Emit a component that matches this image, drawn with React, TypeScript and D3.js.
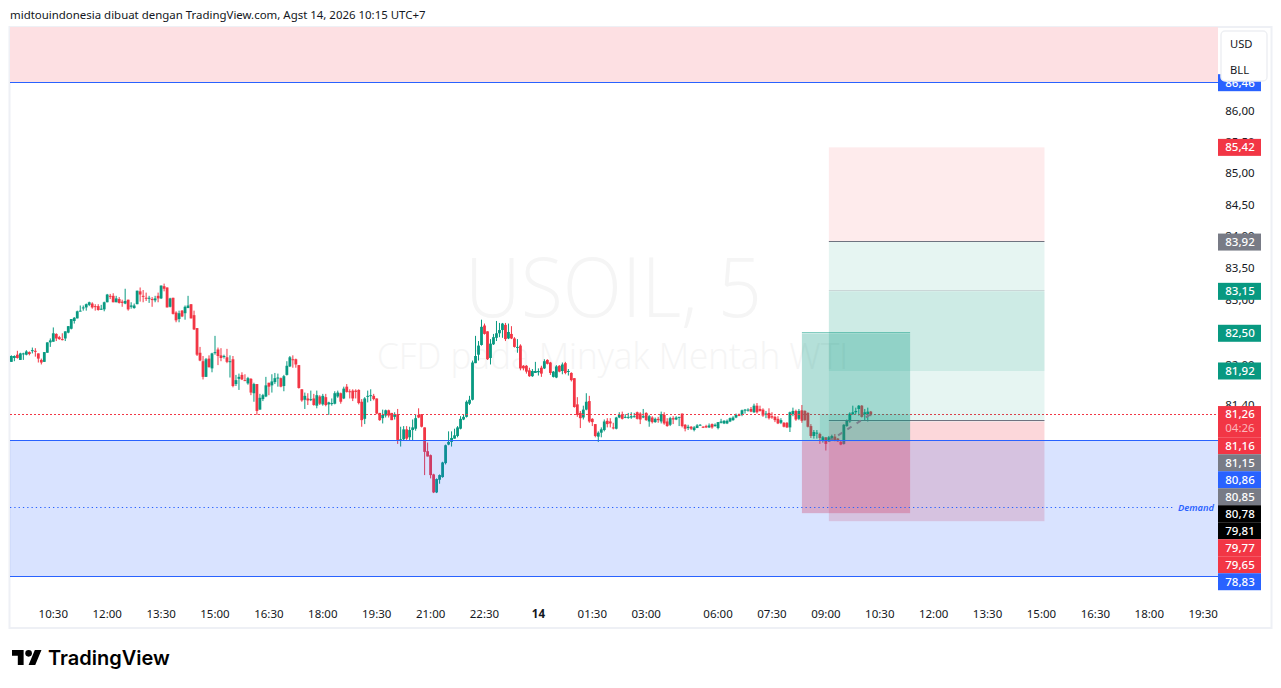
import React, { useRef, useEffect } from 'react';
import * as d3 from 'd3';

const opens = [
  82.06,82.12,82.17,82.09,82.19,82.17,82.21,82.23,82.23,82.19,
  82.09,82.06,82.20,82.36,82.37,82.49,82.44,82.41,82.42,82.51,
  82.57,82.69,82.73,82.84,82.89,82.90,82.94,82.96,82.92,82.92,
  82.87,82.87,82.98,83.08,83.08,82.98,83.03,82.99,82.96,83.02,
  82.91,82.89,82.95,83.15,83.08,83.05,83.04,83.03,83.01,83.08,
  83.04,83.23,83.21,82.91,83.05,82.82,82.72,82.85,82.81,82.89,
  82.95,82.78,82.58,82.20,82.07,81.83,82.11,81.96,82.20,82.25,
  82.16,82.14,82.13,82.06,82.10,81.72,81.80,81.86,81.78,81.73,
  81.80,81.58,81.72,81.33,81.49,81.53,81.74,81.70,81.75,81.81,
  81.81,81.69,81.86,81.99,82.10,82.10,82.01,81.64,81.48,81.50,
  81.48,81.50,81.39,81.53,81.41,81.52,81.41,81.42,81.42,81.53,
  81.58,81.50,81.68,81.61,81.62,81.62,81.63,81.45,81.19,81.53,
  81.54,81.54,81.50,81.28,81.20,81.24,81.32,81.28,81.22,81.26,
  80.87,80.88,81.03,80.91,81.02,81.04,81.25,81.26,81.06,80.70,
  80.64,80.35,80.08,80.27,80.31,80.52,80.80,80.84,80.89,80.93,
  81.04,81.18,81.22,81.42,81.48,82.04,82.17,82.32,82.62,82.53,
  82.12,82.33,82.43,82.50,82.55,82.63,82.42,82.49,82.42,82.28,
  82.31,82.00,82.00,81.93,81.84,81.89,81.90,81.97,81.96,82.09,
  82.05,81.83,81.82,82.00,81.92,82.04,81.91,81.89,81.81,81.41,
  81.28,81.21,81.33,81.46,81.19,81.11,80.92,80.98,81.02,81.16,
  81.15,81.06,81.04,81.21,81.26,81.21,81.21,81.21,81.22,81.29,
  81.27,81.21,81.28,81.15,81.21,81.14,81.19,81.15,81.25,81.15,
  81.10,81.20,81.18,81.21,81.27,81.10,81.05,81.07,81.02,81.05,
  81.09,81.07,81.08,81.06,81.11,81.08,81.05,81.13,81.12,81.12,
  81.15,81.17,81.21,81.25,81.25,81.32,81.32,81.34,81.29,81.39,
  81.34,81.33,81.26,81.28,81.23,81.22,81.19,81.13,81.13,81.13,
  81.06,81.26,81.31,81.19,81.32,81.31,81.28,81.08,80.93,80.97,
  80.96,80.86,80.91,80.85,80.87,80.92,80.89,80.84,80.81,81.08,
  81.15,81.26,81.29,81.34,81.39,81.26,81.26,81.30,
];
const highs = [
  82.16,82.16,82.23,82.20,82.20,82.24,82.22,82.28,82.27,82.19,
  82.11,82.21,82.36,82.42,82.59,82.50,82.46,82.50,82.53,82.61,
  82.72,82.75,82.85,82.93,82.93,82.96,82.99,82.98,82.95,82.95,
  82.94,82.99,83.11,83.11,83.12,83.08,83.06,83.02,83.19,83.02,
  82.98,82.96,83.16,83.21,83.17,83.13,83.08,83.06,83.08,83.13,
  83.24,83.27,83.21,83.05,83.05,82.84,82.85,82.86,82.93,83.08,
  82.95,82.85,82.58,82.29,82.15,82.12,82.16,82.20,82.46,82.28,
  82.27,82.17,82.26,82.16,82.15,81.86,81.88,81.90,81.87,81.83,
  81.81,81.74,81.72,81.57,81.57,81.83,81.74,81.87,81.89,81.88,
  81.82,81.86,82.07,82.15,82.16,82.11,82.01,81.64,81.59,81.58,
  81.62,81.57,81.62,81.55,81.57,81.57,81.45,81.50,81.61,81.62,
  81.59,81.68,81.72,81.64,81.64,81.64,81.64,81.49,81.52,81.62,
  81.64,81.57,81.50,81.28,81.33,81.33,81.33,81.28,81.29,81.34,
  81.07,81.08,81.08,81.07,81.18,81.26,81.35,81.26,81.06,80.83,
  80.65,80.36,80.29,80.35,80.54,80.80,81.00,81.00,81.04,81.08,
  81.23,81.25,81.47,81.54,82.08,82.46,82.38,82.71,82.65,82.53,
  82.41,82.49,82.69,82.66,82.66,82.66,82.65,82.61,82.44,82.41,
  82.33,82.01,82.01,81.97,81.95,82.06,81.96,82.00,82.10,82.10,
  82.06,81.92,82.01,82.01,82.05,82.06,81.95,81.90,81.81,81.52,
  81.31,81.39,81.58,81.54,81.20,81.11,81.00,81.06,81.18,81.20,
  81.20,81.13,81.22,81.29,81.30,81.26,81.28,81.29,81.28,81.30,
  81.29,81.34,81.29,81.25,81.23,81.21,81.22,81.30,81.29,81.20,
  81.22,81.23,81.23,81.22,81.27,81.11,81.10,81.08,81.08,81.11,
  81.11,81.08,81.10,81.12,81.12,81.12,81.14,81.19,81.17,81.18,
  81.21,81.23,81.27,81.27,81.33,81.34,81.35,81.37,81.42,81.43,
  81.39,81.35,81.31,81.35,81.29,81.24,81.23,81.20,81.14,81.14,
  81.30,81.36,81.33,81.34,81.40,81.32,81.29,81.11,81.02,81.02,
  80.98,80.93,80.91,80.93,80.95,80.96,80.90,80.86,81.11,81.18,
  81.29,81.39,81.36,81.40,81.40,81.34,81.36,81.31,
];
const lows = [
  82.06,82.07,82.11,82.09,82.09,82.16,82.16,82.19,82.14,82.05,
  82.02,82.06,82.20,82.29,82.37,82.38,82.40,82.39,82.38,82.50,
  82.56,82.65,82.73,82.84,82.85,82.85,82.92,82.88,82.85,82.85,
  82.86,82.84,82.98,83.03,82.98,82.98,82.96,82.91,82.95,82.85,
  82.88,82.88,82.95,82.99,82.98,83.00,82.97,82.91,82.98,82.98,
  83.03,83.15,82.90,82.90,82.79,82.67,82.67,82.75,82.71,82.89,
  82.73,82.55,82.15,82.07,81.79,81.83,81.97,81.90,82.17,82.01,
  82.07,82.11,82.04,81.82,81.67,81.69,81.63,81.78,81.77,81.71,
  81.55,81.45,81.25,81.33,81.46,81.52,81.55,81.59,81.72,81.68,
  81.67,81.61,81.85,81.98,81.97,81.97,81.65,81.45,81.34,81.40,
  81.46,81.39,81.35,81.40,81.39,81.38,81.25,81.39,81.41,81.51,
  81.42,81.49,81.59,81.50,81.46,81.50,81.41,81.07,81.11,81.44,
  81.46,81.47,81.26,81.16,81.12,81.21,81.21,81.17,81.18,80.81,
  80.77,80.86,80.87,80.86,80.86,81.01,81.20,81.06,80.34,80.62,
  80.29,80.07,80.07,80.21,80.30,80.50,80.79,80.77,80.89,80.91,
  81.03,81.17,81.21,81.40,81.47,82.04,82.08,82.31,82.48,82.09,
  82.02,82.32,82.38,82.44,82.43,82.38,82.41,82.41,82.28,82.20,
  81.93,81.93,81.88,81.83,81.83,81.89,81.85,81.83,81.95,82.02,
  81.86,81.82,81.81,81.90,81.87,81.87,81.85,81.76,81.36,81.22,
  81.05,81.18,81.32,81.13,81.08,80.91,80.84,80.91,81.00,81.06,
  81.06,81.03,81.03,81.20,81.18,81.20,81.19,81.19,81.21,81.18,
  81.11,81.20,81.16,81.07,81.12,81.13,81.13,81.12,81.10,81.07,
  81.08,81.11,81.17,81.08,81.06,81.00,81.02,81.02,81.00,81.05,
  81.09,81.05,81.05,81.05,81.04,81.07,81.03,81.12,81.11,81.11,
  81.14,81.16,81.20,81.23,81.23,81.27,81.30,81.29,81.28,81.27,
  81.30,81.22,81.20,81.18,81.19,81.14,81.11,81.11,81.06,81.05,
  80.99,81.23,81.16,81.17,81.13,81.16,81.06,80.90,80.89,80.89,
  80.81,80.83,80.71,80.84,80.86,80.85,80.84,80.79,80.80,81.07,
  81.13,81.25,81.26,81.24,81.21,81.17,81.15,81.23,
];
const closes = [
  82.15,82.15,82.12,82.19,82.19,82.22,82.18,82.24,82.22,82.11,
  82.05,82.21,82.36,82.39,82.50,82.42,82.41,82.40,82.53,82.61,
  82.72,82.74,82.84,82.85,82.90,82.95,82.98,82.90,82.91,82.86,
  82.88,82.98,83.10,83.07,82.98,83.04,82.97,82.97,83.00,82.87,
  82.93,82.93,83.16,83.10,83.07,83.04,83.05,83.02,83.04,83.04,
  83.24,83.19,82.90,83.04,82.80,82.70,82.81,82.76,82.91,82.93,
  82.73,82.56,82.17,82.08,81.83,82.10,81.98,82.19,82.21,82.15,
  82.12,82.15,82.06,82.07,81.69,81.78,81.83,81.79,81.77,81.81,
  81.59,81.72,81.31,81.51,81.55,81.70,81.68,81.76,81.81,81.82,
  81.68,81.84,82.00,82.13,82.09,82.02,81.66,81.47,81.54,81.47,
  81.49,81.40,81.55,81.42,81.54,81.40,81.44,81.43,81.58,81.59,
  81.45,81.65,81.60,81.60,81.50,81.60,81.43,81.17,81.50,81.54,
  81.55,81.49,81.27,81.17,81.25,81.32,81.24,81.17,81.26,80.87,
  80.88,81.03,80.89,81.02,81.06,81.20,81.21,81.07,80.69,80.62,
  80.34,80.08,80.28,80.34,80.53,80.79,80.84,80.90,80.94,81.06,
  81.19,81.22,81.45,81.48,82.05,82.15,82.31,82.60,82.49,82.10,
  82.34,82.44,82.50,82.55,82.65,82.41,82.52,82.42,82.29,82.29,
  81.96,81.96,81.91,81.84,81.92,81.92,81.92,81.88,82.07,82.03,
  81.89,81.91,81.99,81.91,82.02,81.89,81.92,81.78,81.37,81.25,
  81.20,81.33,81.45,81.15,81.14,80.93,80.98,81.03,81.15,81.11,
  81.12,81.05,81.21,81.25,81.19,81.22,81.22,81.23,81.23,81.19,
  81.18,81.23,81.17,81.23,81.14,81.19,81.17,81.26,81.12,81.08,
  81.20,81.18,81.21,81.22,81.08,81.04,81.07,81.04,81.06,81.09,
  81.10,81.06,81.06,81.09,81.06,81.10,81.14,81.15,81.16,81.16,
  81.20,81.21,81.25,81.24,81.32,81.33,81.33,81.30,81.39,81.29,
  81.31,81.24,81.27,81.20,81.21,81.17,81.12,81.17,81.07,81.06,
  81.29,81.31,81.18,81.31,81.16,81.17,81.07,80.93,80.99,80.98,
  80.90,80.91,80.81,80.91,80.93,80.86,80.85,80.80,81.10,81.16,
  81.27,81.29,81.31,81.39,81.22,81.29,81.30,81.26,
];

const priceTicks = [86, 85.5, 85, 84.5, 84, 83.5, 83, 82.5, 82, 81.4];
const timeTicks = ['10:30', '12:00', '13:30', '15:00', '16:30', '18:00', '19:30', '21:00', '22:30', '14', '01:30', '03:00', '06:00', '07:30', '09:00', '10:30', '12:00', '13:30', '15:00', '16:30', '18:00', '19:30'];
const timeTickBars = [0, 18, 36, 54, 72, 90, 108, 126, 144, 162, 180, 198, 222, 240, 258, 276, 294, 312, 330, 348, 366, 384];

// bar 0 is the 10:30 tick, the last candle is 10:15 on the 14th
const lastBar = 273;

const supplyLine = 86.46;
const demandTop = 80.86;
const demandBottom = 78.83;
const demandMid = 79.84;
const lastPrice = 81.26;

const priceTags = [
  { value: 85.42, color: '#f23645' },
  { value: 83.92, color: '#787b86' },
  { value: 83.15, color: '#089981' },
  { value: 82.5, color: '#089981' },
  { value: 81.92, color: '#089981' },
];
const stackedTags = [
  { value: 81.16, color: '#f23645' },
  { value: 81.15, color: '#787b86' },
  { value: 80.86, color: '#2962ff' },
  { value: 80.85, color: '#787b86' },
  { value: 80.78, color: '#000000' },
  { value: 79.81, color: '#000000' },
  { value: 79.77, color: '#f23645' },
  { value: 79.65, color: '#f23645' },
  { value: 78.83, color: '#2962ff' },
];

const FONT = '"Noto Sans", sans-serif';
const plotLeft = 10;
const plotRight = 1218;
const plotTop = 27;
const fmt = (v: number) => v.toFixed(2).replace('.', ',');

const App: React.FC = () => {
  const svgRef = useRef<SVGSVGElement>(null);

  useEffect(() => {
    if (!svgRef.current) return;
    document.body.style.margin = '0';
    document.body.style.background = '#fff';

    const svg = d3.select(svgRef.current);
    svg.selectAll('*').remove();

    const x = d3.scaleLinear().domain([0, 18]).range([53.3, 107.2]);
    const y = d3.scaleLog().domain([86, 80]).range([111.2, 111.2 + 5345 * Math.log(86 / 80)]);
    const crisp = (v: number) => Math.round(v) - 0.5;

    const box = (xa: number, xb: number, ya: number, yb: number, fill: string) =>
      svg.append('rect').attr('x', xa).attr('y', ya).attr('width', xb - xa).attr('height', yb - ya).attr('fill', fill);
    const hline = (xa: number, xb: number, yy: number, stroke: string, w = 1, dash = '') =>
      svg.append('line').attr('x1', xa).attr('x2', xb).attr('y1', crisp(yy)).attr('y2', crisp(yy))
        .attr('stroke', stroke).attr('stroke-width', w).attr('stroke-dasharray', dash);

    // Outer frame
    svg.append('rect').attr('x', 9.5).attr('y', 27).attr('width', 1262).attr('height', 601)
      .attr('fill', '#fff').attr('stroke', '#eef0f5').attr('stroke-width', 2);

    // Header
    svg.append('text').attr('x', 10).attr('y', 19).attr('font-family', FONT).attr('font-size', 11.45).attr('fill', '#131722')
      .text('midtouindonesia dibuat dengan TradingView.com, Agst 14, 2026 10:15 UTC+7');

    // Watermark
    svg.append('text').attr('x', 465).attr('y', 317).attr('font-family', '"Open Sans", sans-serif').attr('font-weight', 300)
      .attr('font-size', 83).attr('textLength', 297).attr('lengthAdjust', 'spacingAndGlyphs')
      .attr('fill', '#f5f5f5').text('USOIL, 5');
    svg.append('text').attr('x', 377).attr('y', 369).attr('font-family', '"Open Sans", sans-serif').attr('font-weight', 300)
      .attr('font-size', 36).attr('textLength', 471).attr('lengthAdjust', 'spacingAndGlyphs')
      .attr('fill', '#f5f5f5').text('CFD pada Minyak Mentah WTI');

    // Candles
    const n = closes.length;
    const candles = svg.append('g');
    closes.forEach((c, i) => {
      const cx = x(lastBar - (n - 1 - i));
      const o = opens[i];
      const col = c >= o ? '#089981' : '#f23645';
      candles.append('line').attr('x1', cx).attr('x2', cx).attr('y1', y(highs[i])).attr('y2', y(lows[i]))
        .attr('stroke', col).attr('stroke-width', 1);
      const top = y(Math.max(o, c));
      const bot = y(Math.min(o, c));
      candles.append('rect').attr('x', cx - 1.4).attr('width', 2.8).attr('y', top)
        .attr('height', Math.max(bot - top, 1)).attr('fill', col);
    });

    // Last price line, one row lower than the rounding gives
    hline(plotLeft, plotRight, y(lastPrice) + 1, '#f23645', 1, '2 2');

    // Wide position tool
    const xa = x(259);
    const xb = x(331);
    box(xa, xb, y(85.42), y(83.92), 'rgba(242,54,69,0.1)');
    box(xa, xb, y(83.92), y(81.15), 'rgba(8,153,129,0.1)');
    box(xa, xb, y(83.15), y(81.92), 'rgba(8,153,129,0.11)');
    box(xa, xb, y(81.15), y(79.65), 'rgba(242,54,69,0.2)');
    hline(xa, xb, y(83.92), '#6f7380');
    hline(xa, xb, y(83.15), 'rgba(120,123,134,0.25)');
    hline(xa, xb, y(81.15), '#6f7380');

    // Narrow position tool
    const xc = x(250);
    const xd = x(286) + 0.4;
    box(xc, xd, y(82.5), y(80.85), 'rgba(8,153,129,0.3)');
    box(xc, xd, y(80.85), y(79.77), 'rgba(242,54,69,0.33)');
    box(x(256), xd, y(lastPrice), y(80.85), 'rgba(8,153,129,0.14)');
    hline(xc, xd, y(82.5), 'rgba(8,153,129,0.5)');
    hline(xc, xd, y(80.85), '#6f7380');
    svg.append('line').attr('x1', x(259)).attr('x2', x(lastBar)).attr('y1', y(80.85)).attr('y2', y(lastPrice))
      .attr('stroke', '#7b7f8c').attr('stroke-width', 2).attr('stroke-dasharray', '5 6');

    // Supply zone
    box(plotLeft, plotRight, plotTop, y(supplyLine), '#fde0e3');
    hline(plotLeft, plotRight, y(supplyLine), '#2962ff');

    // Demand zone sits over the candles and the tools
    box(plotLeft, plotRight, y(demandTop), y(demandBottom), 'rgba(41,98,255,0.178)');
    hline(plotLeft, plotRight, y(demandTop), '#2962ff');
    hline(plotLeft, plotRight, y(demandBottom), '#2962ff');
    hline(plotLeft, 1175, y(demandMid), '#2962ff', 1, '1.3 3');
    svg.append('text').attr('x', 1214).attr('y', y(demandMid) + 3).attr('text-anchor', 'end')
      .attr('font-family', FONT).attr('font-size', 9.3).attr('font-style', 'italic').attr('font-weight', 600)
      .attr('fill', '#2962ff').text('Demand');

    // Price axis
    const axisX = 1240;
    const axisSize = 11.5;
    priceTicks.forEach((t) => {
      svg.append('text').attr('x', axisX).attr('y', y(t) + 3.5).attr('text-anchor', 'middle')
        .attr('font-family', FONT).attr('font-size', axisSize).attr('fill', '#131722').text(fmt(t));
    });

    const tag = (yy: number, h: number, fill: string, label: string, textFill = '#fff') => {
      box(plotRight, 1261, yy - h / 2, yy + h / 2, fill);
      svg.append('text').attr('x', axisX).attr('y', yy + 4).attr('text-anchor', 'middle')
        .attr('font-family', FONT).attr('font-size', axisSize).attr('font-weight', 500).attr('fill', textFill).text(label);
    };

    tag(y(supplyLine), 17, '#2962ff', fmt(supplyLine));
    priceTags.forEach((t) => tag(y(t.value), 17, t.color, fmt(t.value)));

    // Last price tag with countdown, others stacked below it
    const lastY = y(lastPrice);
    box(plotRight, 1261, lastY - 8, lastY + 23, '#f23645');
    tag(lastY, 16, '#f23645', fmt(lastPrice));
    svg.append('text').attr('x', axisX).attr('y', lastY + 18).attr('text-anchor', 'middle')
      .attr('font-family', FONT).attr('font-size', axisSize).attr('fill', '#fbb6bb').text('04:26');
    let prevBottom = lastY + 23;
    stackedTags.forEach((t) => {
      const cy = Math.max(y(t.value), prevBottom + 8.5);
      tag(cy, 17, t.color, fmt(t.value));
      prevBottom = cy + 8.5;
    });

    // Currency / unit widget
    svg.append('rect').attr('x', 1221).attr('y', 31).attr('width', 46).attr('height', 50).attr('rx', 4)
      .attr('fill', '#fff').attr('stroke', '#eef0f3').attr('stroke-width', 1.5);
    svg.append('text').attr('x', 1230).attr('y', 48).attr('font-family', FONT).attr('font-size', 11.2).attr('fill', '#131722').text('USD');
    svg.append('text').attr('x', 1230).attr('y', 74).attr('font-family', FONT).attr('font-size', 11.2).attr('fill', '#131722').text('BLL');

    // Time axis
    timeTicks.forEach((t, i) => {
      svg.append('text').attr('x', x(timeTickBars[i])).attr('y', 617.5).attr('text-anchor', 'middle')
        .attr('font-family', FONT).attr('font-size', axisSize).attr('font-weight', t === '14' ? 700 : 400)
        .attr('fill', '#131722').text(t);
    });

    // TradingView logo
    const logo = svg.append('g').attr('transform', 'translate(12,646.7) scale(0.83)').attr('fill', '#000');
    logo.append('path').attr('d', 'M14 22H7V11H0V4h14v18zM28 22h-8l7.5-18h8L28 22z');
    logo.append('circle').attr('cx', 20).attr('cy', 8).attr('r', 4);
    svg.append('text').attr('x', 48).attr('y', 665).attr('font-family', 'Inter, sans-serif').attr('font-size', 20)
      .attr('font-weight', 600).attr('fill', '#000').text('TradingView');
  }, []);

  return <svg ref={svgRef} width={1281} height={688} style={{ display: 'block' }} />;
};

export default App;
